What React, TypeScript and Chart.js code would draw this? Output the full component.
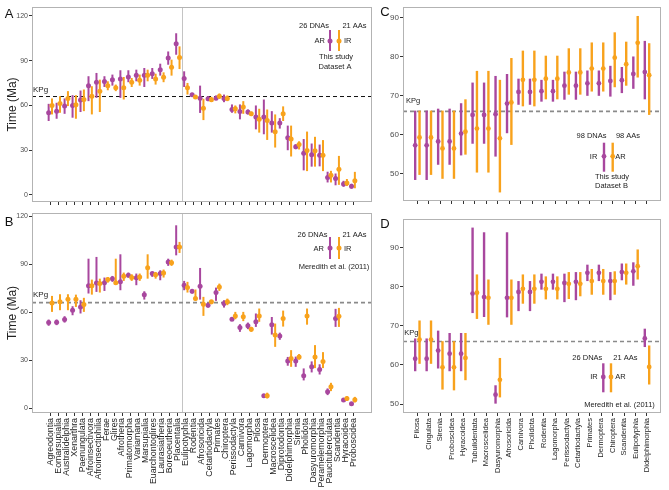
import React, { useEffect, useRef } from "react";
import { Chart, registerables } from "chart.js";
Chart.register(...registerables);

const FONT = "'Liberation Sans', Arial, Helvetica, sans-serif";
Chart.defaults.font.family = FONT;
const PURPLE = "#A8479E";
const ORANGE = "#F8A21C";
const FRAME = "#b3b3b3";
const KPG = 66;

// ---------- Panels A & B (shared categories) ----------
const abCategories = [
  "Agreodontia", "Eomarsupialia", "Australidelphia", "Xenarthra", "Paenungulata",
  "Afroinsectivora", "Afroinsectiphilia", "Ferae", "Glires", "Afrotheria",
  "Primatomorpha", "Variamana", "Marsupialia", "Euarchontoglires", "Laurasiatheria",
  "Boreoeutheria", "Placentalia", "Eulipotyphla", "Rodentia", "Afrosoricida",
  "Cetartiodactyla", "Primates", "Chiroptera", "Perissodactyla", "Carnivora",
  "Lagomorpha", "Pilosa", "Dermoptera", "Macroscelidea", "Diprotodontia",
  "Didelphimorphia", "Sirenia", "Pholidota", "Dasyuromorphia", "Peramelemorphia",
  "Paucituberculata", "Scandentia", "Hyracoidea", "Proboscidea",
];
const abYTicks = [0, 30, 60, 90, 120];

// Panel A – AR (26 DNAs, purple) and IR (21 AAs, orange)
const aPurpleMid = [55.1, 56.2, 59.6, 60, 63.6, 73.3, 75.6, 76, 77.3, 77.8, 79.1, 80.2, 80.2, 81.3, 84, 91.8, 101.3, 78, 67.2, 64.8, 64.5, 64.9, 64.7, 57.3, 56, 55.6, 52.2, 52.2, 48.3, 48.2, 38.4, 32.3, 28, 26.9, 26.7, 11.8, 11.1, 7.3, 5.8];
const aPurpleLow = [49.6, 51.1, 54.4, 51.8, 55.6, 62.9, 65.1, 72.4, 73.3, 65.1, 75.6, 76.2, 72.4, 77.8, 80, 87.3, 94, 72.4, 66.2, 55, 62.9, 63.6, 62.2, 55.1, 50.7, 54, 44, 40.7, 41.8, 44.5, 30, 30.7, 16.5, 19, 19.2, 8.4, 6.5, 5.5, 4.2];
const aPurpleHigh = [61.1, 61.8, 64.7, 66.9, 70, 79.6, 81.8, 79.6, 80.7, 83.6, 83.6, 84, 85.1, 85.1, 88, 96.2, 108.4, 82.9, 68.4, 73.3, 66.2, 66.7, 67.3, 60.7, 60.7, 57.3, 60, 64, 56.2, 51.5, 46.5, 34, 37.5, 34.5, 33.8, 15.6, 14.4, 9.5, 7.5];
const aOrangeMid = [60, 61.3, 64.7, 60.4, 64, 66.2, 69.6, 73.3, 71.8, 71.8, 75.6, 76.9, 80.2, 77.8, 78.9, 85.6, 92.2, 71.8, 65.7, 58.1, 63.9, 66.1, 64.7, 57.8, 58.9, 54.4, 50.7, 50, 42.4, 54.5, 37.5, 33.8, 29.8, 29.6, 26.7, 13.3, 17.3, 8, 9.6];
const aOrangeLow = [54, 55.1, 59.6, 51.1, 56.2, 54, 55.6, 70.2, 69.6, 64, 72.4, 73.3, 76.2, 74, 75.6, 80, 84.4, 67.3, 64.7, 50.2, 62.4, 64.4, 62.9, 54.7, 54.4, 52.9, 41.8, 36.9, 31.8, 49.6, 25.8, 30.5, 16, 19, 16, 8.4, 6.8, 6, 4.5];
const aOrangeHigh = [64.7, 66.2, 69.6, 66.9, 70.7, 72.9, 77.3, 76.2, 74, 79.1, 78.4, 80.7, 84, 81.3, 82.2, 90.7, 99.6, 75.1, 66.9, 64.5, 65.8, 68, 66.7, 60, 62.9, 55.8, 57.8, 57.3, 54, 59.4, 46.5, 36, 42.5, 39, 36.8, 16.2, 26.2, 10.7, 15.5];

// Panel B – Meredith et al. (2011)
const bPurpleMid = [53.5, 53.75, 55.4, 61.25, 63.3, 76.5, 78.3, 78.5, 81, 79, 83.1, 81.5, 71, 84.2, 84.2, 91.5, 100.8, 76.9, 73.1, 76.25, 64.4, 72.3, 65.4, 55.6, 50.4, 51.5, 54, 7.7, 52.2, 45.1, 29.4, 29.4, 20.2, 25.8, 24.2, 10.2, 56, 5, 2.7];
const bPurpleLow = [51.5, 51.9, 53.5, 58.1, 59.2, 71.7, 72.7, 73.3, 79, 73.75, 81.7, 76.9, 67.9, 82.1, 80, 89, 95.6, 73.75, 71.7, 67.9, 62.9, 67.1, 62.9, 54.6, 47.7, 49.4, 50.8, 6.7, 46, 42.7, 26.5, 25.8, 17.3, 22.3, 21, 8.1, 50.8, 4.2, 2];
const bPurpleHigh = [55.4, 55.4, 57.5, 63.75, 67.5, 93.5, 94.6, 81.7, 82.7, 96.25, 84.8, 84.2, 73.1, 85.2, 86.25, 93.5, 114.4, 79.6, 74.2, 87.7, 65.8, 75.4, 67.5, 56.7, 52.5, 53.5, 59.2, 8.5, 57, 47.2, 32, 32.2, 24.8, 29.2, 27.4, 12.3, 62.1, 5.8, 3.4];
const bOrangeMid = [65.8, 66.5, 68.1, 68.1, 64.8, 76.5, 77.9, 80.4, 78.5, 82.5, 81.7, 82.1, 87.9, 83.5, 84.6, 91, 100.8, 75.4, 68.5, 65, 66.5, 75.8, 66.5, 57.7, 57.1, 49.4, 57.7, 7.7, 45.8, 56, 31, 32, 57.6, 32, 29.2, 13.3, 57.5, 6, 5.2];
const bOrangeLow = [60.2, 61.25, 61.25, 63.3, 60.2, 71, 72.3, 78.5, 77.9, 79.6, 79.6, 79.6, 81, 81, 81.7, 89, 97.1, 72.3, 67.1, 57.7, 65, 73.3, 64.4, 55.6, 54.4, 47.7, 54, 6, 38.3, 51, 25.8, 30.3, 52.2, 25, 25, 10.6, 50.8, 4.5, 3.5];
const bOrangeHigh = [70.2, 71.25, 71.25, 71, 69, 80.4, 81, 82, 93.5, 84.8, 83.75, 84.2, 96.25, 85.2, 86.7, 92.9, 104, 79, 74.2, 69.6, 67.5, 77.9, 68.5, 60.2, 60.2, 50.8, 62.3, 9.6, 52.9, 61, 36.25, 33.8, 62.3, 39.4, 35, 15.8, 62.7, 7.5, 7];

// ---------- Panels C & D (shared categories) ----------
const cdCategories = [
  "Pilosa", "Cingulata", "Sirenia", "Proboscidea", "Hyracoidea", "Tubulidentata",
  "Macroscelidea", "Dasyuromorphia", "Afrosoricida", "Carnivora", "Pholidota",
  "Rodentia", "Lagomorpha", "Perissodactyla", "Cetartiodactyla", "Primates",
  "Dermoptera", "Chiroptera", "Scandentia", "Eulipotyphla", "Didelphimorphia",
];
const cdYTicks = [50, 60, 70, 80, 90];

// Panel C – IR (98 DNAs, purple) and AR (98 AAs, orange)
const cPurpleMid = [57.3, 57.3, 58.3, 58.3, 60.3, 65.1, 65.1, 65.3, 68, 71, 71, 71.2, 71.2, 72.6, 72.6, 73.2, 73.2, 73.8, 74, 75.6, 76.1];
const cPurpleLow = [48.4, 48.4, 52.3, 52.3, 54.7, 57.7, 57.7, 54.4, 60.4, 67.7, 67.7, 68.5, 68.5, 69, 69, 70, 70, 69.8, 70.7, 71.8, 69.1];
const cPurpleHigh = [66.2, 66.2, 66.7, 66.7, 68.1, 73.4, 73.4, 75.1, 75.6, 74.4, 74.4, 74.1, 74.1, 76.2, 76.2, 76.5, 76.5, 77.7, 77.4, 80.1, 84.1];
const cOrangeMid = [59.3, 59.3, 56.5, 56.5, 60.8, 61.6, 61.6, 59.1, 68.3, 74.1, 74.1, 74.4, 74.4, 76, 76, 77, 77, 79.8, 78.1, 83.6, 75.3];
const cOrangeLow = [49.7, 49.7, 48.7, 48.7, 54.9, 50.3, 50.3, 45.2, 57.4, 67.3, 67.3, 69.1, 69.1, 70.3, 70.3, 71.1, 71.1, 72.2, 72.6, 74.7, 65.1];
const cOrangeHigh = [66.2, 66.2, 66.2, 66.2, 69.1, 76.4, 76.4, 74.1, 79.7, 81.6, 81.6, 80.3, 80.3, 82.2, 82.2, 83.7, 83.7, 86.3, 83.9, 90.5, 83.5];

// Panel D – Meredith et al. (2011), IR (26 DNAs) and AR (21 AAs)
const dPurpleMid = [61.6, 61.6, 63.7, 62.9, 62.9, 78.3, 77.4, 52.4, 77.2, 78.7, 78.7, 81.3, 81.3, 81, 81.3, 83.6, 83.6, 81.5, 83.8, 84, 66.8];
const dPurpleLow = [58.4, 58.4, 59.1, 58.4, 58.4, 73.3, 72.3, 50.1, 72.2, 73.8, 73.8, 79.3, 79.3, 76.1, 76.6, 81.5, 81.5, 76.6, 81.7, 80.3, 64.6];
const dPurpleHigh = [66.8, 66.8, 68.8, 68.2, 68.2, 95.2, 94, 54.8, 94, 81.5, 81.5, 83.4, 83.4, 83.4, 83.8, 85.7, 85.7, 83.8, 86, 86.3, 69.3];
const dOrangeMid = [66.5, 66.5, 59.4, 59.4, 61.8, 78.5, 77.2, 56.2, 77.2, 79.5, 79.5, 79.5, 79.5, 80.8, 80.8, 81.5, 81.5, 81.5, 83.6, 85.3, 59.5];
const dOrangeLow = [60.3, 60.3, 53.7, 53.5, 56.1, 71.8, 70.3, 51.7, 70.3, 75.7, 75.7, 76.8, 76.8, 76.9, 77.6, 78, 78, 78, 80.6, 81.9, 55];
const dOrangeHigh = [71.4, 71.4, 66.1, 66.1, 68.2, 83.2, 81.9, 61.8, 81.9, 83.2, 83.2, 82.7, 82.7, 83.8, 83.8, 84.6, 84.6, 84, 86, 89.6, 65];

type Txt = { t: string; x: number; y: number; align: CanvasTextAlign };
type Glyph = { x: number; y0: number; y1: number; yp: number; color: string };

type Panel = {
  left: number; top: number; w: number; h: number;
  padTop: number; padRight: number; yAxisW: number; xAxisH: number;
  cats: string[]; showLabels: boolean; labelSize: number;
  xMin: number; xMax: number; yMin: number; yMax: number; yTicks: number[]; tickSize: number;
  yTitle?: string;
  purple: number[][]; orange: number[][]; dodge: number; barW: number; pointR: number;
  kpgColor: string; kpgWidth: number; kpgDash: number[]; kpgDx: number; kpgDy: number; kpgSize: number;
  sepAt?: number;
  letter: Txt; texts: Txt[]; glyphs: Glyph[];
};

const decoPlugin = {
  id: "deco",
  beforeDatasetsDraw(chart: any, _a: any, o: any) {
    const { ctx, chartArea: ca, scales } = chart;
    const x = scales.x, y = scales.y;
    ctx.save();
    if (o.sepAt != null) {
      const px = Math.round(x.getPixelForValue(o.sepAt)) + 0.5;
      ctx.strokeStyle = "#c4c4c4";
      ctx.lineWidth = 1;
      ctx.beginPath();
      ctx.moveTo(px, ca.top);
      ctx.lineTo(px, ca.bottom);
      ctx.stroke();
    }
    const py = y.getPixelForValue(KPG);
    ctx.strokeStyle = o.kpgColor;
    ctx.lineWidth = o.kpgWidth;
    ctx.setLineDash(o.kpgDash);
    ctx.beginPath();
    ctx.moveTo(ca.left, py);
    ctx.lineTo(ca.right, py);
    ctx.stroke();
    ctx.setLineDash([]);
    ctx.fillStyle = "#222";
    ctx.font = `${o.kpgSize}px ${FONT}`;
    ctx.textAlign = "left";
    ctx.textBaseline = "alphabetic";
    ctx.fillText("KPg", ca.left + o.kpgDx, py - o.kpgDy);
    ctx.restore();
  },
  afterDraw(chart: any, _a: any, o: any) {
    const { ctx, chartArea: ca } = chart;
    ctx.save();
    ctx.strokeStyle = FRAME;
    ctx.lineWidth = 1;
    ctx.strokeRect(Math.round(ca.left) + 0.5, Math.round(ca.top) + 0.5, Math.round(ca.right - ca.left) - 1, Math.round(ca.bottom - ca.top) - 1);
    ctx.fillStyle = "#111";
    ctx.font = `13px ${FONT}`;
    ctx.textAlign = "center";
    ctx.textBaseline = "middle";
    ctx.fillText(o.letter.t, o.letter.x, o.letter.y);
    ctx.fillStyle = "#222";
    ctx.font = `7.5px ${FONT}`;
    for (const t of o.texts as Txt[]) {
      ctx.textAlign = t.align;
      ctx.fillText(t.t, t.x, t.y);
    }
    for (const g of o.glyphs as Glyph[]) {
      ctx.strokeStyle = g.color;
      ctx.fillStyle = g.color;
      ctx.lineWidth = o.barW;
      ctx.beginPath();
      ctx.moveTo(g.x, g.y0);
      ctx.lineTo(g.x, g.y1);
      ctx.stroke();
      ctx.beginPath();
      ctx.arc(g.x, g.yp, o.pointR, 0, Math.PI * 2);
      ctx.fill();
    }
    ctx.restore();
  },
};

function buildConfig(p: Panel): any {
  const bars = (s: number[][], color: string, off: number) => ({
    type: "bar",
    data: p.cats.map((_, i) => ({ x: i + off, y: [s[1][i], s[2][i]] })),
    backgroundColor: color,
    borderWidth: 0,
    inflateAmount: 0,
    grouped: false,
    barThickness: p.barW,
    maxBarThickness: p.barW,
  });
  const pts = (s: number[][], color: string, off: number) => ({
    type: "scatter",
    data: p.cats.map((_, i) => ({ x: i + off, y: s[0][i] })),
    pointRadius: p.pointR,
    pointBackgroundColor: color,
    pointBorderWidth: 0,
    showLine: false,
  });
  return {
    type: "bar",
    data: {
      datasets: [
        pts(p.orange, ORANGE, p.dodge),
        bars(p.orange, ORANGE, p.dodge),
        pts(p.purple, PURPLE, -p.dodge),
        bars(p.purple, PURPLE, -p.dodge),
      ],
    },
    options: {
      responsive: false,
      animation: false,
      devicePixelRatio: 1,
      events: [],
      layout: { padding: { top: p.padTop, right: p.padRight, left: 0, bottom: 0 } },
      plugins: {
        legend: { display: false },
        tooltip: { enabled: false },
        deco: {
          sepAt: p.sepAt,
          kpgColor: p.kpgColor, kpgWidth: p.kpgWidth, kpgDash: p.kpgDash,
          kpgDx: p.kpgDx, kpgDy: p.kpgDy, kpgSize: p.kpgSize,
          letter: p.letter, texts: p.texts, glyphs: p.glyphs,
          barW: p.barW, pointR: p.pointR,
        },
      },
      scales: {
        x: {
          type: "linear",
          min: p.xMin,
          max: p.xMax,
          offset: false,
          border: { display: false },
          grid: { display: true, drawOnChartArea: false, drawTicks: true, tickLength: 3, tickColor: "#333", tickWidth: 1, offset: false },
          afterBuildTicks: (s: any) => { s.ticks = p.cats.map((_, i) => ({ value: i })); },
          afterFit: (s: any) => { s.height = p.xAxisH; s.paddingLeft = 0; s.paddingRight = 0; },
          ticks: {
            display: p.showLabels,
            autoSkip: false,
            minRotation: 90,
            maxRotation: 90,
            padding: 2,
            color: "#1e1e1e",
            font: { size: p.labelSize, family: FONT },
            callback: (v: number) => p.cats[Math.round(v)] ?? "",
          },
        },
        y: {
          type: "linear",
          min: p.yMin,
          max: p.yMax,
          border: { display: false },
          grid: { display: true, drawOnChartArea: false, drawTicks: true, tickLength: 3, tickColor: "#333", tickWidth: 1 },
          afterBuildTicks: (s: any) => { s.ticks = p.yTicks.map((v) => ({ value: v })); },
          afterFit: (s: any) => { s.width = p.yAxisW; s.paddingTop = 0; s.paddingBottom = 0; },
          ticks: {
            padding: 1,
            color: "#4d4d4d",
            font: { size: p.tickSize, family: FONT },
            callback: (v: number) => String(v),
          },
          title: p.yTitle
            ? { display: true, text: p.yTitle, color: "#222", font: { size: 12, family: FONT }, padding: { top: 5, bottom: 0 } }
            : { display: false },
        },
      },
    },
    plugins: [decoPlugin],
  };
}

const panels: Panel[] = [
  {
    left: 0, top: 0, w: 380, h: 206, padTop: 7, padRight: 8, yAxisW: 32, xAxisH: 3,
    cats: abCategories, showLabels: false, labelSize: 8.8,
    xMin: -2.3, xMax: 40.36, yMin: -4.7, yMax: 126, yTicks: abYTicks, tickSize: 7, yTitle: "Time (Ma)",
    purple: [aPurpleMid, aPurpleLow, aPurpleHigh], orange: [aOrangeMid, aOrangeLow, aOrangeHigh],
    dodge: 0.21, barW: 2, pointR: 2.5,
    kpgColor: "#111", kpgWidth: 1, kpgDash: [4, 3], kpgDx: 1, kpgDy: 4.5, kpgSize: 8,
    sepAt: 16.5,
    letter: { t: "A", x: 9, y: 14, align: "center" },
    texts: [
      { t: "26 DNAs", x: 314, y: 25.5, align: "center" },
      { t: "21 AAs", x: 354.5, y: 25.5, align: "center" },
      { t: "AR", x: 325, y: 41, align: "right" },
      { t: "IR", x: 344, y: 41, align: "left" },
      { t: "This study", x: 336, y: 56.5, align: "center" },
      { t: "Dataset A", x: 335, y: 66.5, align: "center" },
    ],
    glyphs: [
      { x: 330, y0: 30, y1: 51, yp: 41, color: PURPLE },
      { x: 339, y0: 30, y1: 51, yp: 41, color: ORANGE },
    ],
  },
  {
    left: 0, top: 206, w: 380, h: 284, padTop: 7, padRight: 8, yAxisW: 32, xAxisH: 77,
    cats: abCategories, showLabels: true, labelSize: 8.8,
    xMin: -2.3, xMax: 40.36, yMin: -3.1, yMax: 122.1, yTicks: abYTicks, tickSize: 7, yTitle: "Time (Ma)",
    purple: [bPurpleMid, bPurpleLow, bPurpleHigh], orange: [bOrangeMid, bOrangeLow, bOrangeHigh],
    dodge: 0.21, barW: 2, pointR: 2.5,
    kpgColor: "#8a8a8a", kpgWidth: 1.6, kpgDash: [4, 3], kpgDx: 1, kpgDy: 6, kpgSize: 8,
    sepAt: 16.5,
    letter: { t: "B", x: 9, y: 16.5, align: "center" },
    texts: [
      { t: "26 DNAs", x: 312.5, y: 29, align: "center" },
      { t: "21 AAs", x: 354.5, y: 29, align: "center" },
      { t: "AR", x: 324, y: 43, align: "right" },
      { t: "IR", x: 344, y: 43, align: "left" },
      { t: "Meredith et al. (2011)", x: 334, y: 61.3, align: "center" },
    ],
    glyphs: [
      { x: 330, y0: 31, y1: 53, yp: 42, color: PURPLE },
      { x: 339, y0: 31, y1: 53, yp: 42, color: ORANGE },
    ],
  },
  {
    left: 380, top: 0, w: 289, h: 206, padTop: 7, padRight: 8, yAxisW: 23, xAxisH: 5,
    cats: cdCategories, showLabels: false, labelSize: 7.5,
    xMin: -1.25, xMax: 21.22, yMin: 43, yMax: 92.8, yTicks: cdYTicks, tickSize: 8,
    purple: [cPurpleMid, cPurpleLow, cPurpleHigh], orange: [cOrangeMid, cOrangeLow, cOrangeHigh],
    dodge: 0.19, barW: 2.4, pointR: 2.4,
    kpgColor: "#8a8a8a", kpgWidth: 1.6, kpgDash: [4, 3], kpgDx: 3, kpgDy: 8, kpgSize: 7.5,
    letter: { t: "C", x: 5, y: 12, align: "center" },
    texts: [
      { t: "98 DNAs", x: 211.5, y: 136, align: "center" },
      { t: "98 AAs", x: 248, y: 136, align: "center" },
      { t: "IR", x: 217.3, y: 157, align: "right" },
      { t: "AR", x: 235.3, y: 157, align: "left" },
      { t: "This study", x: 232, y: 176.7, align: "center" },
      { t: "Dataset B", x: 231.5, y: 186, align: "center" },
    ],
    glyphs: [
      { x: 224, y0: 142.7, y1: 171.7, yp: 156.3, color: PURPLE },
      { x: 232.7, y0: 142.7, y1: 171.7, yp: 156.3, color: ORANGE },
    ],
  },
  {
    left: 380, top: 206, w: 289, h: 284, padTop: 13, padRight: 8, yAxisW: 23, xAxisH: 77,
    cats: cdCategories, showLabels: true, labelSize: 7.5,
    xMin: -1.25, xMax: 21.22, yMin: 47.7, yMax: 97.4, yTicks: cdYTicks, tickSize: 8,
    purple: [dPurpleMid, dPurpleLow, dPurpleHigh], orange: [dOrangeMid, dOrangeLow, dOrangeHigh],
    dodge: 0.19, barW: 2.4, pointR: 2.4,
    kpgColor: "#8a8a8a", kpgWidth: 1.6, kpgDash: [4, 3], kpgDx: 1.3, kpgDy: 6.5, kpgSize: 7.5,
    letter: { t: "D", x: 5, y: 18, align: "center" },
    texts: [
      { t: "26 DNAs", x: 207.3, y: 151.7, align: "center" },
      { t: "21 AAs", x: 245.3, y: 151.7, align: "center" },
      { t: "IR", x: 217.7, y: 171, align: "right" },
      { t: "AR", x: 235.3, y: 171, align: "left" },
      { t: "Meredith et al. (2011)", x: 239.5, y: 199, align: "center" },
    ],
    glyphs: [
      { x: 223.3, y0: 157.3, y1: 186.3, yp: 171, color: PURPLE },
      { x: 231, y0: 157.3, y1: 186.3, yp: 171, color: ORANGE },
    ],
  },
];

function PanelChart({ p }: { p: Panel }) {
  const ref = useRef<HTMLCanvasElement>(null);
  useEffect(() => {
    const chart = new Chart(ref.current as HTMLCanvasElement, buildConfig(p));
    return () => chart.destroy();
  }, [p]);
  return (
    <canvas
      ref={ref}
      width={p.w}
      height={p.h}
      style={{ position: "absolute", left: p.left, top: p.top, width: p.w, height: p.h, display: "block" }}
    />
  );
}

export default function App() {
  return (
    <div style={{ position: "fixed", left: 0, top: 0, width: 669, height: 490, background: "#fff", overflow: "hidden" }}>
      {panels.map((p, i) => (
        <PanelChart key={i} p={p} />
      ))}
    </div>
  );
}
